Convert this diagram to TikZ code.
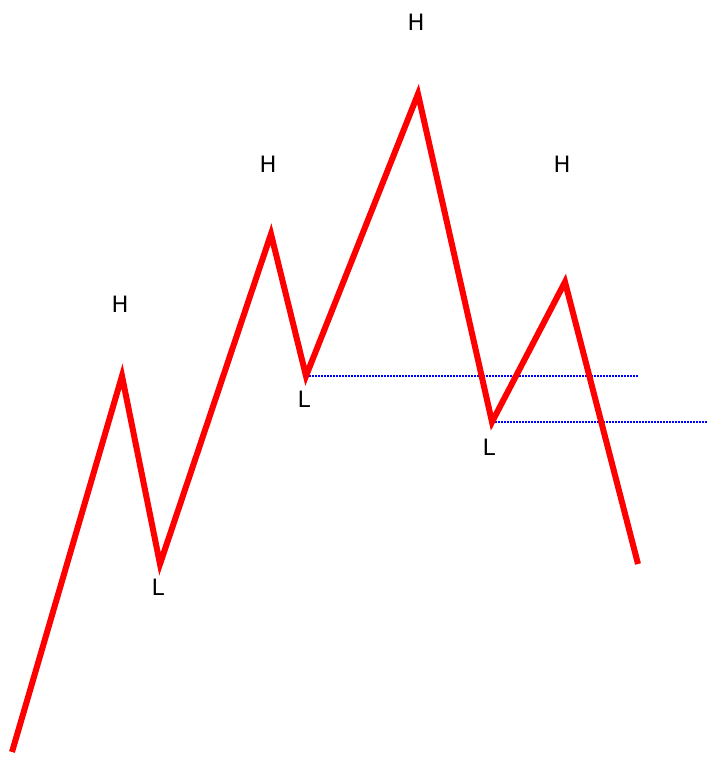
\documentclass[tikz,border=0pt]{standalone}
\usepackage{fontspec}
\setmainfont{DejaVu Sans}
\begin{document}
\begin{tikzpicture}[x=1pt,y=-1pt,
  zig/.style={red,line width=6pt,line join=miter},
  lvl/.style={blue,line width=1.6pt,dash pattern=on 2pt off 1pt},
  lab/.style={font=\fontsize{22.5}{26}\selectfont,inner sep=0pt,anchor=center}]
\useasboundingbox (0,0) rectangle (707,757);
\coordinate (p0) at (12,752);
\coordinate (h1) at (122,376);
\coordinate (l1) at (160,564);
\coordinate (h2) at (271,234);
\coordinate (l2) at (306,376);
\coordinate (h3) at (418,94);
\coordinate (l3) at (492,422);
\coordinate (h4) at (565,282);
\coordinate (p9) at (638,564);
\coordinate (e2) at (638,376);
\coordinate (e3) at (707,422);
\draw[lvl] (l2) -- (e2);
\draw[lvl] (l3) -- (e3);
\draw[zig] (p0) -- (h1) -- (l1) -- (h2) -- (l2) -- (h3) -- (l3) -- (h4) -- (p9);
\node[lab] (th1) at (120,304) {H};
\node[lab] (tl1) at (158,587) {L};
\node[lab] (th2) at (268,164) {H};
\node[lab] (tl2) at (304,399) {L};
\node[lab] (th3) at (416,22) {H};
\node[lab] (th4) at (562,164) {H};
\node[lab] (tl3) at (489,447) {L};
\end{tikzpicture}
\end{document}
